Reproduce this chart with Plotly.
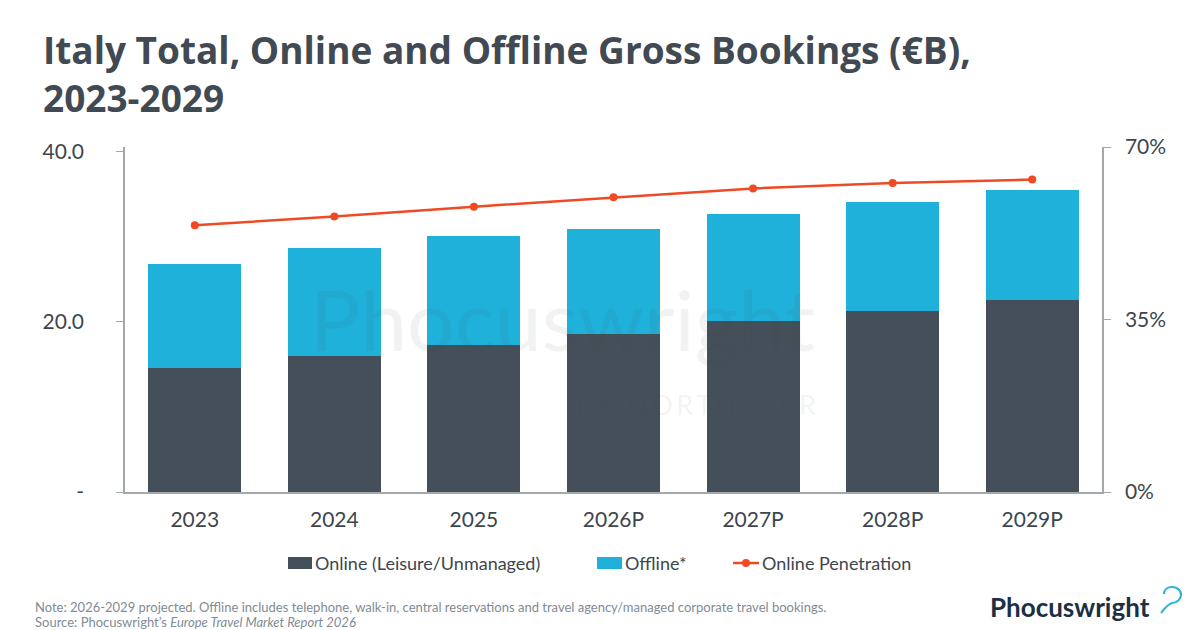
import plotly.graph_objects as go

years = ["2023", "2024", "2025", "2026P", "2027P", "2028P", "2029P"]
online = [14.5, 16.0, 17.3, 18.5, 20.1, 21.3, 22.5]
offline = [12.3, 12.7, 12.7, 12.4, 12.5, 12.8, 13.0]
penetration = [0.541, 0.559, 0.579, 0.598, 0.616, 0.627, 0.634]

left_ticks = [0, 20, 40]
left_ticktext = ["-", "20.0", "40.0"]
right_ticks = [0, 0.35, 0.70]
right_ticktext = ["0%", "35%", "70%"]

DARK = "#454f59"
BLUE = "#20b1da"
RED = "#f04a24"
TXT = "#3d464e"
AXIS = "#a3a8ad"
FONT = "Lato"

# plot area in pixels
L, R, T, B = 125, 1102, 147, 492
W, H = 1200, 630


def px(x):
    return (x - L) / (R - L)


def py(y):
    return (B - y) / (B - T)


fig = go.Figure()
fig.add_trace(go.Bar(x=years, y=online, name="Online (Leisure/Unmanaged)",
                     marker=dict(color=DARK, line=dict(width=0)), showlegend=False))
fig.add_trace(go.Bar(x=years, y=offline, name="Offline*",
                     marker=dict(color=BLUE, line=dict(width=0)), showlegend=False))
fig.add_trace(go.Scatter(x=years, y=penetration, name="Online Penetration", yaxis="y2",
                         mode="lines+markers", line=dict(color=RED, width=2.5),
                         marker=dict(color=RED, size=8), showlegend=False))

annotations = []
shapes = []

# watermark
WM = "rgba(60,68,76,0.07)"
annotations.append(dict(x=px(562), y=py(318), xref="paper", yref="paper", text="Phocuswright",
                        showarrow=False, font=dict(family=FONT, size=84, color=WM),
                        xanchor="center", yanchor="middle"))
annotations.append(dict(x=px(696), y=py(404), xref="paper", yref="paper",
                        text="\u2009".join("BY NORTHSTAR"),
                        showarrow=False, font=dict(family=FONT, size=27, color=WM),
                        xanchor="center", yanchor="middle"))

# manual legend
ly = 563
LEG = 18
shapes.append(dict(type="rect", xref="paper", yref="paper", x0=px(288), x1=px(312), y0=py(569), y1=py(557),
                   fillcolor=DARK, line=dict(width=0)))
annotations.append(dict(x=px(313), y=py(ly), xref="paper", yref="paper", text="Online (Leisure/Unmanaged)",
                        showarrow=False, xanchor="left", yanchor="middle",
                        font=dict(family=FONT, size=LEG, color=TXT)))
shapes.append(dict(type="rect", xref="paper", yref="paper", x0=px(597), x1=px(622), y0=py(569), y1=py(557),
                   fillcolor=BLUE, line=dict(width=0)))
annotations.append(dict(x=px(623), y=py(ly), xref="paper", yref="paper", text="Offline*",
                        showarrow=False, xanchor="left", yanchor="middle",
                        font=dict(family=FONT, size=LEG, color=TXT)))
shapes.append(dict(type="line", xref="paper", yref="paper", x0=px(733), x1=px(759), y0=py(ly), y1=py(ly),
                   line=dict(color=RED, width=2.5)))
shapes.append(dict(type="circle", xref="paper", yref="paper", x0=px(742), x1=px(750), y0=py(ly + 4), y1=py(ly - 4),
                   fillcolor=RED, line=dict(width=0)))
annotations.append(dict(x=px(760), y=py(ly), xref="paper", yref="paper", text="Online Penetration",
                        showarrow=False, xanchor="left", yanchor="middle",
                        font=dict(family=FONT, size=LEG, color=TXT)))

# footer
annotations.append(dict(x=px(33), y=py(607), xref="paper", yref="paper",
                        text="Note: 2026-2029 projected. Offline includes telephone, walk-in, central reservations and travel agency/managed corporate travel bookings.",
                        showarrow=False, xanchor="left", yanchor="middle",
                        font=dict(family=FONT, size=13, color="#7f8b95")))
annotations.append(dict(x=px(33), y=py(622), xref="paper", yref="paper",
                        text="Source: Phocuswright\u2019s <i>Europe Travel Market Report 2026</i>",
                        showarrow=False, xanchor="left", yanchor="middle",
                        font=dict(family=FONT, size=13, color="#7f8b95")))

# logo
annotations.append(dict(x=px(988), y=py(607), xref="paper", yref="paper", text="<b>Phocuswright</b>",
                        showarrow=False, xanchor="left", yanchor="middle",
                        font=dict(family=FONT, size=26, color="#1b2f45")))
path = (f"M {px(1161)} {py(613)} C {px(1165)} {py(608)} {px(1168)} {py(604)} {px(1172)} {py(603)} "
        f"C {px(1177)} {py(603)} {px(1181)} {py(599)} {px(1181)} {py(595)} "
        f"C {px(1181)} {py(590)} {px(1177)} {py(587)} {px(1172)} {py(587)} "
        f"C {px(1167)} {py(587)} {px(1164)} {py(590)} {px(1164)} {py(594)}")
shapes.append(dict(type="path", xref="paper", yref="paper", path=path,
                   line=dict(color="#2fb3d6", width=2.2)))

fig.update_layout(
    width=W, height=H,
    barmode="stack", bargap=0.333,
    plot_bgcolor="white", paper_bgcolor="white",
    margin=dict(l=L, r=W - R, t=T, b=H - B, pad=0),
    font=dict(family=FONT, color=TXT),
    title=dict(text="<b>Italy Total, Online and Offline Gross Bookings (\u20acB),<br>2023-2029</b>",
               x=43 / W, xanchor="left", xref="container",
               y=1 - 64 / H, yanchor="top", yref="container",
               font=dict(family="Open Sans", size=37, color="#414a52")),
    xaxis=dict(showline=True, linecolor=AXIS, linewidth=1.5, ticks="", showgrid=False,
               tickfont=dict(family=FONT, size=21, color=TXT), ticklabelstandoff=8),
    yaxis=dict(range=[0, 40.5], tickvals=left_ticks, ticktext=left_ticktext, showgrid=False,
               showline=True, linecolor=AXIS, linewidth=1.5, ticks="outside", ticklen=7,
               tickcolor=AXIS, zeroline=False,
               tickfont=dict(family=FONT, size=21, color=TXT), ticklabelstandoff=28),
    yaxis2=dict(range=[0, 0.70], tickvals=right_ticks, ticktext=right_ticktext, overlaying="y",
                side="right", showgrid=False, showline=True, linecolor=AXIS, linewidth=1.5,
                ticks="outside", ticklen=7, tickcolor=AXIS, zeroline=False,
                tickfont=dict(family=FONT, size=21, color=TXT), ticklabelstandoff=10),
    annotations=annotations,
    shapes=shapes,
)

fig.write_html("out.html", config={"displayModeBar": False},
               post_script="document.body.style.margin='0';document.body.style.padding='0';")
